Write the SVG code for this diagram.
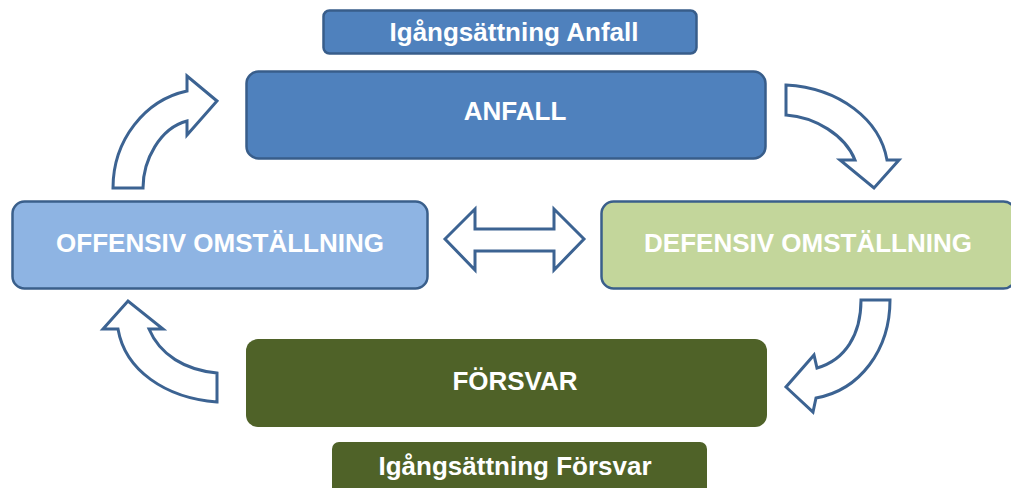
<svg xmlns="http://www.w3.org/2000/svg" width="1011" height="488" viewBox="0 0 1011 488">
<style>
.lbl{font-family:"Liberation Sans",Arial,sans-serif;font-weight:bold;font-size:26px;fill:#ffffff;text-anchor:middle}
.blue{fill:#4F81BD;stroke:#385D8A;stroke-width:2.5}
.lblue{fill:#8EB4E3;stroke:#3A5F8B;stroke-width:2.5}
.lgreen{fill:#C3D69B;stroke:#3A5F8B;stroke-width:2.5}
.dgreen{fill:#4F6228}
.arr{fill:#ffffff;stroke:#3C6392;stroke-width:3;stroke-linejoin:miter}
</style>
<rect width="1011" height="488" fill="#ffffff"/>
<g id="igangsattning-anfall">
<rect class="blue" x="323.5" y="10.5" width="373" height="43" rx="6"/>
<text class="lbl" x="514" y="41">Igångsättning Anfall</text>
</g>
<g id="anfall">
<rect class="blue" x="246.5" y="71.5" width="519" height="87" rx="12"/>
<text class="lbl" x="515" y="120">ANFALL</text>
</g>
<g id="offensiv">
<rect class="lblue" x="12.5" y="201.5" width="415" height="87" rx="12"/>
<text class="lbl" x="220" y="252">OFFENSIV OMSTÄLLNING</text>
</g>
<g id="defensiv">
<rect class="lgreen" x="601.5" y="201.5" width="414" height="87" rx="12"/>
<text class="lbl" x="808" y="252">DEFENSIV OMSTÄLLNING</text>
</g>
<g id="forsvar">
<rect class="dgreen" x="246" y="339" width="521" height="88" rx="12"/>
<text class="lbl" x="515" y="390">FÖRSVAR</text>
</g>
<g id="igangsattning-forsvar">
<rect class="dgreen" x="332" y="442" width="375" height="52" rx="7"/>
<text class="lbl" x="515" y="475">Igångsättning Försvar</text>
</g>
<g id="connectors">
<path class="arr" d="M113,188 C113,140 145,100 187,91 L187,76 L217,101 L187,135 L187,121 C160,128 143,160 143,188 Z"/>
<path class="arr" d="M786,85 C840,88 880,120 887,160 L899,160 L874,188 L840,160 L855,160 C845,135 815,117 786,115 Z"/>
<path class="arr" d="M861,300 C861,335 845,360 817,368 L814,355 L786,387 L813,412 L816,398 C860,390 890,350 890,300 Z"/>
<path class="arr" d="M217,402 C165,398 125,370 118,329 L103,329 L128,301 L163,329 L149,329 C160,355 185,370 217,373 Z"/>
<path class="arr" d="M445,239 L475,209 L475,229 L554,229 L554,209 L584,239 L554,270 L554,251 L475,251 L475,270 Z"/>
</g>
</svg>
